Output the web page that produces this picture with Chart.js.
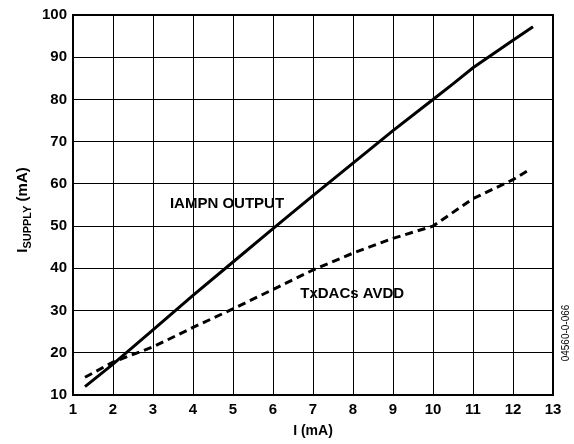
<!DOCTYPE html>
<html>
<head>
<meta charset="utf-8">
<script src="https://cdn.jsdelivr.net/npm/chart.js@4"></script>
<style>
  html, body { margin: 0; padding: 0; background: #fff; }
  #wrap { width: 574px; height: 444px; }
</style>
</head>
<body>
<div id="wrap"><canvas id="myChart" width="574" height="444"></canvas></div>
<script>
// данные
const iX = [1.3, 2, 3, 4, 5, 6, 7, 8, 9, 10, 10.5, 11, 12, 12.5]
const iampnY = [12, 17.3, 25.4, 33.6, 41.5, 49.4, 57.2, 64.9, 72.6, 80, 83.7, 87.5, 94, 97.2]
const dacX = [1.3, 2, 3, 4, 5, 6, 7, 8, 9, 10, 11, 12, 12.45]
const dacY = [14.2, 17.8, 21.4, 26, 30.4, 35, 39.6, 43.6, 47.1, 50, 56.5, 61, 63.6]
const xTicks = [1, 2, 3, 4, 5, 6, 7, 8, 9, 10, 11, 12, 13]
const yTicks = [10, 20, 30, 40, 50, 60, 70, 80, 90, 100]

// подписи линий (в единицах данных)
const labels = [
    { text: 'IAMPN OUTPUT', x: 4.85, y: 55.3 },
    { text: 'TxDACs AVDD', x: 7.98, y: 34 }
]

const canvas = document.getElementById('myChart')
const ctx = canvas.getContext('2d')
const FONT = "'Liberation Sans', Arial, sans-serif"

function toPoints(xs, ys) {
    return xs.map((x, i) => ({ x: x, y: ys[i] }))
}

// плагин: рамка, подписи, заголовок оси Y, номер рисунка
const extras = {
    id: 'extras',
    afterDraw(chart) {
        const c = chart.ctx
        const a = chart.chartArea
        const sx = chart.scales.x
        const sy = chart.scales.y
        c.save()
        c.strokeStyle = '#000'
        c.lineWidth = 2
        c.strokeRect(a.left, a.top, a.right - a.left, a.bottom - a.top)

        c.fillStyle = '#000'
        c.font = 'bold 15px ' + FONT
        c.textAlign = 'center'
        c.textBaseline = 'middle'
        labels.forEach(l => {
            c.fillText(l.text, sx.getPixelForValue(l.x), sy.getPixelForValue(l.y))
        })

        // I_SUPPLY (mA)
        c.translate(22, 210)
        c.rotate(-Math.PI / 2)
        const big = 'bold 15px ' + FONT
        const small = 'bold 11px ' + FONT
        c.font = big
        const w1 = c.measureText('I').width
        const w3 = c.measureText(' (mA)').width
        c.font = small
        const w2 = c.measureText('SUPPLY').width
        let x0 = -(w1 + w2 + w3) / 2
        c.textAlign = 'left'
        c.textBaseline = 'alphabetic'
        c.font = big
        c.fillText('I', x0, 5)
        c.font = small
        c.fillText('SUPPLY', x0 + w1, 9)
        c.font = big
        c.fillText(' (mA)', x0 + w1 + w2, 5)
        c.restore()

        c.save()
        c.translate(566, 333)
        c.rotate(-Math.PI / 2)
        c.font = '10px ' + FONT
        c.fillStyle = '#000'
        c.textAlign = 'center'
        c.textBaseline = 'middle'
        c.fillText('04560-0-066', 0, 0)
        c.restore()
    }
}

new Chart(ctx, {
    type: 'scatter',
    data: {
        datasets: [
            {
                label: 'IAMPN OUTPUT',
                data: toPoints(iX, iampnY),
                showLine: true,
                borderColor: '#000',
                borderWidth: 3,
                pointRadius: 0,
                tension: 0
            },
            {
                label: 'TxDACs AVDD',
                data: toPoints(dacX, dacY),
                showLine: true,
                borderColor: '#000',
                borderWidth: 3,
                borderDash: [8, 5],
                pointRadius: 0,
                tension: 0
            }
        ]
    },
    options: {
        responsive: false,
        animation: false,
        layout: { padding: { left: 0, right: 21, top: 12, bottom: 0 } },
        plugins: {
            legend: { display: false },
            tooltip: { enabled: false }
        },
        scales: {
            x: {
                type: 'linear',
                min: 1,
                max: 13,
                afterBuildTicks: s => { s.ticks = xTicks.map(v => ({ value: v })) },
                afterFit: s => { s.height = 49 },
                grid: { color: '#000', lineWidth: 1, drawTicks: false },
                border: { color: '#000', width: 2 },
                ticks: { color: '#000', padding: 6, font: { family: FONT, size: 15, weight: 'bold' } },
                title: {
                    display: true,
                    text: 'I (mA)',
                    color: '#000',
                    padding: { top: 0, bottom: 4 },
                    font: { family: FONT, size: 14, weight: 'bold' }
                }
            },
            y: {
                type: 'linear',
                min: 10,
                max: 100,
                afterBuildTicks: s => { s.ticks = yTicks.map(v => ({ value: v })) },
                afterFit: s => { s.width = 73 },
                grid: { color: '#000', lineWidth: 1, drawTicks: false },
                border: { color: '#000', width: 2 },
                ticks: { color: '#000', padding: 6, font: { family: FONT, size: 15, weight: 'bold' } }
            }
        }
    },
    plugins: [extras]
})
</script>
</body>
</html>
